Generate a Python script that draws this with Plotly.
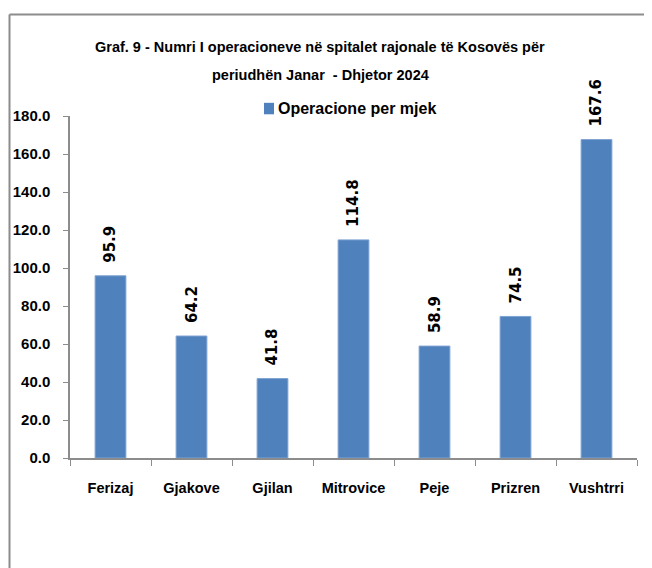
import plotly.graph_objects as go

categories = ["Ferizaj", "Gjakove", "Gjilan", "Mitrovice", "Peje", "Prizren", "Vushtrri"]
values = [95.9, 64.2, 41.8, 114.8, 58.9, 74.5, 167.6]
series_name = "Operacione per mjek"
title_lines = ["Graf. 9 - Numri I operacioneve në spitalet rajonale të Kosovës për",
               "periudhën Janar  - Dhjetor 2024"]

# the page body adds an 8px offset; work in page pixels and convert
OFF = 8
W, H = 644, 560
L, R, T, B = 70 - OFF, 637 - OFF, 115.7 - OFF, 458.5 - OFF

def px(x):
    return (x - OFF - L) / (R - L)

def py(y):
    return (B - (y - OFF)) / (B - T)

FONT = "Liberation Sans Narrow, Arial Narrow, Liberation Sans, sans-serif"
BAR_COLOR = "#4F81BD"

fig = go.Figure()
fig.add_trace(go.Bar(
    x=categories, y=values, name=series_name,
    marker=dict(color=BAR_COLOR, line=dict(color="#7FA3D2", width=1)),
    showlegend=False,
))

annotations = []
for c, v in zip(categories, values):
    annotations.append(dict(
        x=c, y=v, xref="x", yref="y", text=f"<b>{v:.1f}</b>", showarrow=False,
        textangle=-90, yanchor="bottom", xanchor="center", yshift=11,
        font=dict(family="DejaVu Sans, Verdana, sans-serif", size=15, color="#000000"),
    ))
for t, yy in zip(title_lines, [47, 75]):
    annotations.append(dict(
        x=px(320), y=py(yy), xref="paper", yref="paper", text=f"<b>{t}</b>",
        showarrow=False, xanchor="center", yanchor="middle",
        font=dict(family=FONT, size=14.5, color="#000000"),
    ))
# legend entry (text)
annotations.append(dict(
    x=px(276), y=py(108.5), xref="paper", yref="paper", text=f"<b>{series_name}</b>",
    showarrow=False, xanchor="left", yanchor="middle",
    font=dict(family=FONT, size=16, color="#000000"),
))

shapes = [
    # legend swatch
    dict(type="rect", xref="paper", yref="paper", x0=px(264), x1=px(274), y0=py(102.5), y1=py(114),
         fillcolor=BAR_COLOR, line=dict(width=0)),
    # outer frame (left and top edges)
    dict(type="line", xref="paper", yref="paper", x0=px(9.5), x1=px(9.5), y0=py(14), y1=py(600),
         line=dict(color="#8C8C8C", width=2)),
    dict(type="line", xref="paper", yref="paper", x0=px(9.5), x1=px(700), y0=py(14), y1=py(14),
         line=dict(color="#8C8C8C", width=2)),
]

fig.update_layout(
    width=W, height=H,
    margin=dict(l=L, r=W - R, t=T, b=H - B, pad=0, autoexpand=False),
    paper_bgcolor="white", plot_bgcolor="white",
    bargap=0.62,
    annotations=annotations, shapes=shapes,
    showlegend=False,
    xaxis=dict(
        automargin=False,
        showline=True, linecolor="#8C8C8C", linewidth=1.5,
        ticks="outside", ticklen=6, tickcolor="#8C8C8C", tickson="boundaries",
        tickfont=dict(family=FONT, size=14.5, color="#000000"),
        ticklabelstandoff=16, showgrid=False,
        tickvals=categories, ticktext=[f"<b>{c}</b>" for c in categories],
    ),
    yaxis=dict(
        automargin=False,
        range=[0, 180], dtick=20, tickformat=".1f",
        showline=True, linecolor="#8C8C8C", linewidth=1.5,
        ticks="outside", ticklen=5, tickcolor="#8C8C8C",
        tickfont=dict(family=FONT, size=15, color="#000000"),
        ticklabelstandoff=10, showgrid=False, zeroline=False,
        tickprefix="<b>", ticksuffix="</b>",
    ),
)

fig.write_html("out.html")
